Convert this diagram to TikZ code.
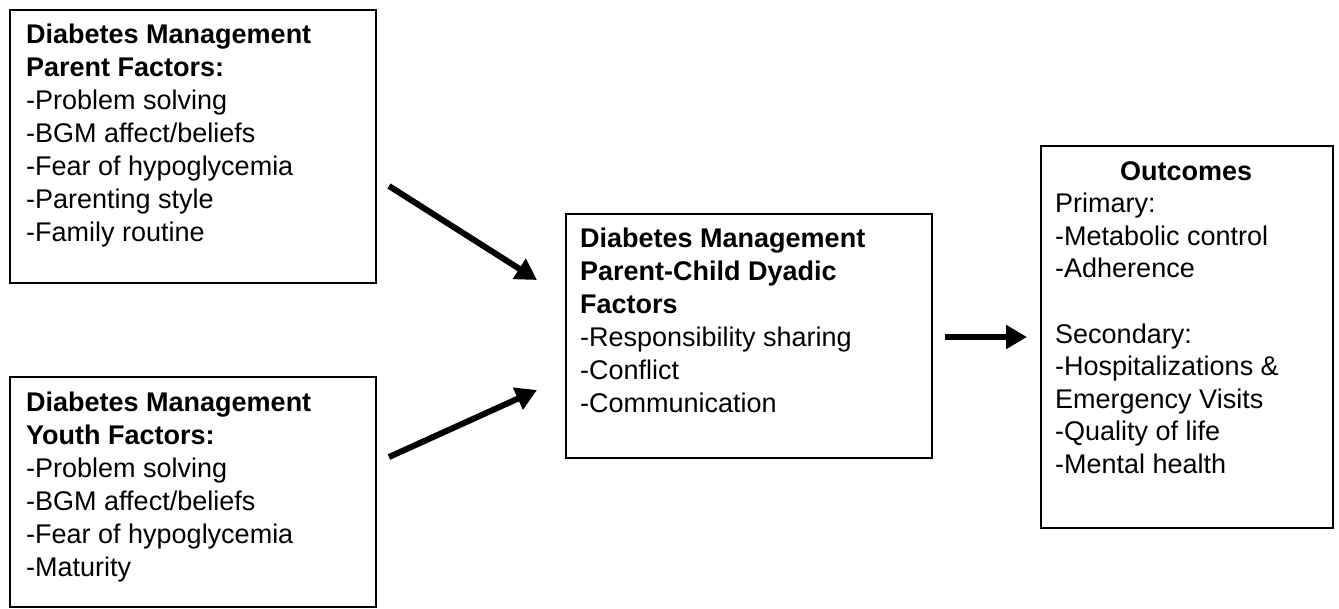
\documentclass[tikz,border=0pt]{standalone}
\usepackage{fontspec}
\setmainfont{Liberation Sans}
\usetikzlibrary{arrows.meta,calc}
\begin{document}
\begin{tikzpicture}[x=1pt,y=-1pt,
  box/.style={draw=black, line width=2pt, inner sep=0pt, anchor=north west},
  txt/.style={anchor=north west, inner sep=0pt, align=left, font=\fontsize{27}{33}\selectfont},
  conn/.style={line width=6pt, -{Triangle[length=21pt,width=23pt]}}]
\useasboundingbox (0,0) rectangle (1339,608);
% boxes
\node[box, minimum width=366pt, minimum height=273pt] (parent) at (9,9) {};
\node[box, minimum width=366pt, minimum height=230pt] (youth) at (9,376) {};
\node[box, minimum width=366pt, minimum height=244pt] (dyadic) at (565,213) {};
\node[box, minimum width=292pt, minimum height=382pt] (outcomes) at (1040,145) {};
% texts
\node[txt] (parentText) at (26,20) {\strut\textbf{Diabetes Management}\\
\textbf{Parent Factors:}\\
-Problem solving\\
-BGM affect/beliefs\\
-Fear of hypoglycemia\\
-Parenting style\\
-Family routine};
\node[txt] (youthText) at (26,388) {\strut\textbf{Diabetes Management}\\
\textbf{Youth Factors:}\\
-Problem solving\\
-BGM affect/beliefs\\
-Fear of hypoglycemia\\
-Maturity};
\node[txt] (dyadicText) at (580,224) {\strut\textbf{Diabetes Management}\\
\textbf{Parent-Child Dyadic}\\
\textbf{Factors}\\
-Responsibility sharing\\
-Conflict\\
-Communication};
\node[txt, font=\fontsize{27}{32.6}\selectfont] (outcomesText) at (1055,157) {\strut\makebox[262pt][c]{\textbf{Outcomes}}\\
Primary:\\
-Metabolic control\\
-Adherence\\[32.6pt]
Secondary:\\
-Hospitalizations \&\\
Emergency Visits\\
-Quality of life\\
-Mental health};
% connectors
\coordinate (p1) at (389,186);
\coordinate (p2) at (537,280);
\coordinate (y1) at (389,457);
\coordinate (y2) at (537,390);
\coordinate (d1) at (945,337);
\coordinate (d2) at (1027,337);
\draw[conn] (p1) -- (p2);
\draw[conn] (y1) -- (y2);
\draw[conn] (d1) -- (d2);
\end{tikzpicture}
\end{document}
